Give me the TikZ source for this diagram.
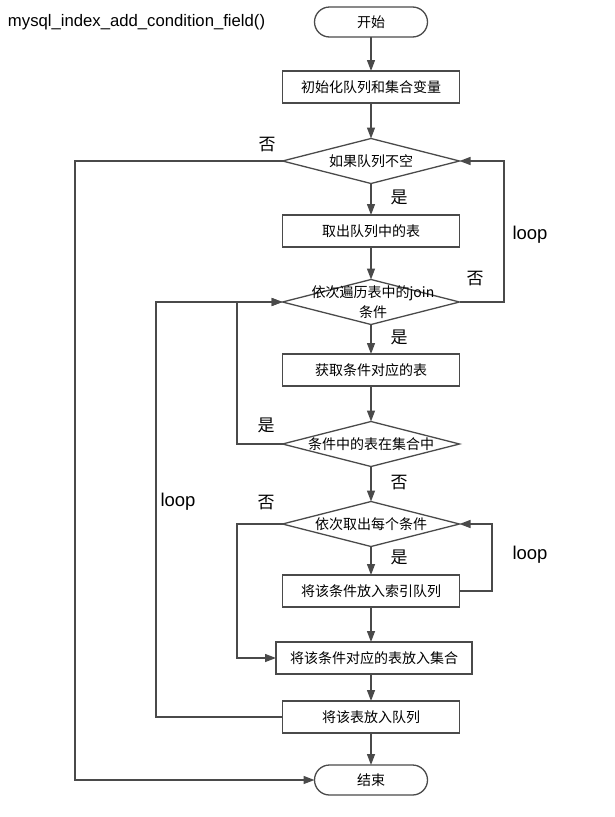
\documentclass[tikz,border=0pt]{standalone}
\usepackage{fontspec}
\setmainfont{Liberation Sans}
\newfontfamily\cjk{Noto Sans CJK SC}
\usetikzlibrary{shapes.geometric,arrows.meta}
\definecolor{ln}{HTML}{4A4A4A}
\tikzset{
  x=1pt,y=-1pt,
  every node/.style={inner sep=0pt,outer sep=0pt},
  proc/.style={draw=ln,line width=1.3pt,minimum width=177pt,minimum height=32pt,font=\cjk\fontsize{14pt}{16pt}\selectfont},
  term/.style={draw=ln,line width=1.3pt,rounded corners=15pt,minimum width=113pt,minimum height=30pt,font=\cjk\fontsize{14pt}{16pt}\selectfont},
  dec/.style={draw=ln,line width=1.3pt,diamond,aspect=3.93,minimum width=177pt,minimum height=45pt,align=center,font=\cjk\fontsize{14pt}{17pt}\selectfont},
  lab/.style={font=\cjk\fontsize{17pt}{19pt}\selectfont},
  lp/.style={font=\fontsize{18.5pt}{20pt}\selectfont},
  conn/.style={draw=ln,line width=1.3pt,-{Triangle[length=11pt,width=8pt]}},
}
\begin{document}
\begin{tikzpicture}
\useasboundingbox (0,0) rectangle (614,817);
\node[anchor=west,font=\fontsize{16.7pt}{18pt}\selectfont] (title) at (8,22) {mysql\_index\_add\_condition\_field()};
\node[term] (start) at (371,22) {开始};
\node[proc] (b1) at (371,87) {初始化队列和集合变量};
\node[dec] (d1) at (371,161) {如果队列不空};
\node[proc] (b2) at (371,231) {取出队列中的表};
\node[dec] (d2) at (371,302) {};
\node[font=\cjk\fontsize{14pt}{20pt}\selectfont,align=center] (d2t) at (373,302) {依次遍历表中的join\\条件};
\node[proc] (b3) at (371,370) {获取条件对应的表};
\node[dec] (d3) at (371,444) {条件中的表在集合中};
\node[dec] (d4) at (371,524) {依次取出每个条件};
\node[proc] (b4) at (371,591) {将该条件放入索引队列};
\node[proc,minimum width=196pt] (b5) at (374,658) {将该条件对应的表放入集合};
\node[proc] (b6) at (371,717) {将该表放入队列};
\node[term] (end) at (371,780) {结束};

\draw[conn] (start) -- (b1);
\draw[conn] (b1) -- (d1);
\draw[conn] (d1) -- (b2);
\draw[conn] (b2) -- (d2);
\draw[conn] (d2) -- (b3);
\draw[conn] (b3) -- (d3);
\draw[conn] (d3) -- (d4);
\draw[conn] (d4) -- (b4);
\draw[conn] (b4) -- (b4 |- b5.north);
\draw[conn] (b5.south -| b6) -- (b6);
\draw[conn] (b6) -- (end);

\coordinate (c1) at (75,161);
\coordinate (c2) at (504,302);
\coordinate (c3) at (237,444);
\coordinate (c4) at (156,717);
\coordinate (c5) at (237,524);
\coordinate (c6) at (492,591);
\draw[conn] (d1.west) -- (c1) |- (end.west);
\draw[conn] (d2.east) -- (c2) |- (d1.east);
\draw[conn] (d3.west) -- (c3) |- (d2.west);
\draw[conn] (b6.west) -- (c4) |- (d2.west);
\draw[conn] (d4.west) -- (c5) |- (b5.west);
\draw[conn] (b4.east) -- (c6) |- (d4.east);

\node[lab] (l1) at (267,145) {否};
\node[lab] (l2) at (399,197) {是};
\node[lab] (l3) at (475,279) {否};
\node[lp] (l4) at (530,235) {loop};
\node[lab] (l5) at (399,337) {是};
\node[lab] (l6) at (266,425) {是};
\node[lab] (l7) at (399,483) {否};
\node[lp] (l8) at (178,502) {loop};
\node[lab] (l9) at (266,503) {否};
\node[lab] (l10) at (399,557) {是};
\node[lp] (l11) at (530,555) {loop};
\end{tikzpicture}
\end{document}
